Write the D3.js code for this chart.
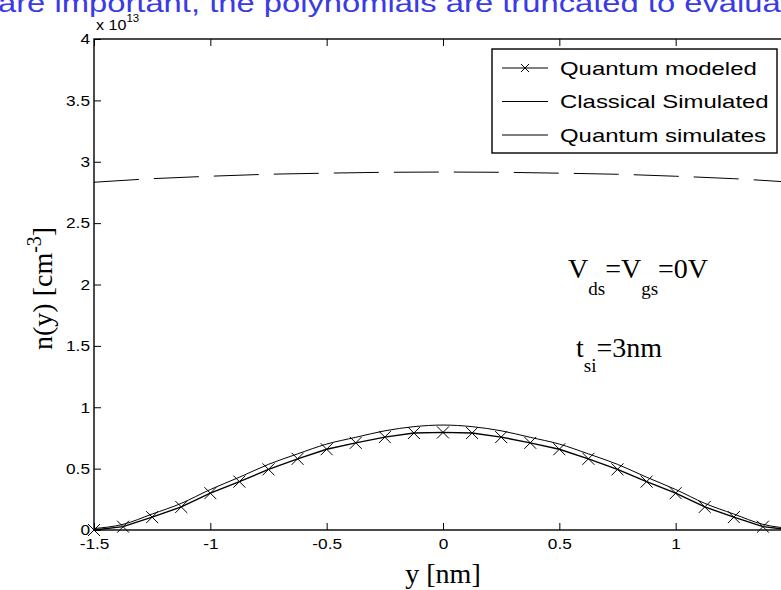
<!DOCTYPE html>
<html>
<head>
<meta charset="utf-8">
<script src="https://cdn.jsdelivr.net/npm/d3@7/dist/d3.min.js"></script>
<style>
    body { margin: 0; background: #fff; }
    svg { display: block; }
    .tick line { stroke: #000; }
</style>
</head>
<body>
<div id="chart"></div>
<script>
// position across the film [nm] where the model was evaluated (x markers)
const yNm = [-1.5, -1.375, -1.25, -1.125, -1, -0.875, -0.75, -0.625, -0.5, -0.375, -0.25, -0.125, 0,
             0.125, 0.25, 0.375, 0.5, 0.625, 0.75, 0.875, 1, 1.125, 1.25, 1.375, 1.5];
// electron density in units of 1e13 cm^-3
const quantumModeled = [0, 0.027, 0.105, 0.188, 0.30, 0.394, 0.494, 0.58, 0.658, 0.71, 0.757, 0.79, 0.795,
                        0.79, 0.757, 0.71, 0.658, 0.58, 0.494, 0.394, 0.30, 0.188, 0.105, 0.027, 0];
const quantumSimulates = [0.012, 0.046, 0.13, 0.217, 0.33, 0.43, 0.535, 0.62, 0.70, 0.755, 0.808, 0.842, 0.855,
                          0.842, 0.808, 0.755, 0.70, 0.62, 0.535, 0.43, 0.33, 0.217, 0.13, 0.046, 0.012];
// classical curve (much flatter)
const yClassical = [-1.5, -1.25, -1, -0.75, -0.5, -0.25, 0, 0.25, 0.5, 0.75, 1, 1.25, 1.5];
const classicalSimulated = [2.833, 2.862, 2.882, 2.898, 2.907, 2.914, 2.916, 2.914, 2.907, 2.898, 2.882, 2.862, 2.833];

const xTicks = [-1.5, -1, -0.5, 0, 0.5, 1, 1.5];
const yTicks = [0, 0.5, 1, 1.5, 2, 2.5, 3, 3.5, 4];
const legendLabels = ["Quantum modeled", "Classical Simulated", "Quantum simulates"];
const pageText = "are important, the polynomials are truncated to evaluate";

const width = 781, height = 590;
const sans = "'Liberation Sans', Arial, sans-serif";
const serif = "'Liberation Serif', 'Times New Roman', serif";

const svg = d3.select("#chart").append("svg")
    .attr("width", width)
    .attr("height", height)
    .style("overflow", "hidden");

// the axes run off the right side of the picture
const x = d3.scaleLinear().domain([-1.5, 1.5]).range([94, 792]);
const y = d3.scaleLinear().domain([0, 4]).range([530, 39]);

// bit of the document text above the figure
svg.append("text")
    .attr("transform", "translate(-2,12) scale(1.26,1)")
    .attr("font-family", sans)
    .attr("font-size", 26)
    .attr("fill", "#3a3ae6")
    .text(pageText);

// plain hyphen minus like the original
const fmt = d => String(d);

// axes (ticks point inward)
const xAxis = svg.append("g")
    .attr("transform", `translate(0,${y(0)})`)
    .call(d3.axisBottom(x).tickValues(xTicks).tickSizeInner(-7).tickSizeOuter(0).tickPadding(8)
        .tickFormat(fmt));
svg.append("g")
    .attr("transform", `translate(0,${y(4)})`)
    .call(d3.axisTop(x).tickValues(xTicks).tickSizeInner(-7).tickSizeOuter(0).tickFormat(""));
const yAxis = svg.append("g")
    .attr("transform", `translate(${x(-1.5)},0)`)
    .call(d3.axisLeft(y).tickValues(yTicks).tickSizeInner(-7).tickSizeOuter(0).tickPadding(3.5)
        .tickFormat(fmt));
svg.append("g")
    .attr("transform", `translate(${x(1.5)},0)`)
    .call(d3.axisRight(y).tickValues(yTicks).tickSizeInner(-7).tickSizeOuter(0).tickFormat(""));

svg.selectAll(".domain").remove();
svg.selectAll(".tick line").attr("stroke-width", 1);
svg.selectAll(".tick text")
    .attr("font-family", sans)
    .attr("font-size", 15)
    .attr("fill", "#000")
    .attr("transform", "scale(1.15,1)");
xAxis.selectAll(".tick text").attr("dy", "0.71em");

// box
svg.append("rect")
    .attr("x", x(-1.5))
    .attr("y", y(4))
    .attr("width", x(1.5) - x(-1.5))
    .attr("height", y(0) - y(4))
    .attr("fill", "none")
    .attr("stroke", "#000")
    .attr("stroke-width", 1.4);

// exponent label
const expLabel = svg.append("text")
    .attr("transform", "translate(96,30) scale(1.15,1)")
    .attr("font-family", sans)
    .attr("font-size", 14);
expLabel.append("tspan").text("x 10");
expLabel.append("tspan").attr("font-size", 10).attr("dy", -8).text("13");

// curves
svg.append("path")
    .datum(classicalSimulated)
    .attr("fill", "none")
    .attr("stroke", "#000")
    .attr("stroke-width", 1)
    .attr("stroke-dasharray", "45,15")
    .attr("d", d3.line().x((d, i) => x(yClassical[i])).y(d => y(d)).curve(d3.curveMonotoneX));

svg.append("path")
    .datum(quantumSimulates)
    .attr("fill", "none")
    .attr("stroke", "#000")
    .attr("stroke-width", 1)
    .attr("d", d3.line().x((d, i) => x(yNm[i])).y(d => y(d)).curve(d3.curveMonotoneX));

svg.append("path")
    .datum(quantumModeled)
    .attr("fill", "none")
    .attr("stroke", "#000")
    .attr("stroke-width", 1.4)
    .attr("d", d3.line().x((d, i) => x(yNm[i])).y(d => y(d)));

const xMark = s => `M${-s},${-s}L${s},${s}M${-s},${s}L${s},${-s}`;

svg.append("g")
    .selectAll("path")
    .data(quantumModeled)
    .enter().append("path")
    .attr("transform", (d, i) => `translate(${x(yNm[i])},${y(d)})`)
    .attr("d", xMark(6))
    .attr("stroke", "#000")
    .attr("stroke-width", 1);

// legend
const legend = svg.append("g").attr("transform", "translate(492,49)");
legend.append("rect")
    .attr("width", 285)
    .attr("height", 104)
    .attr("fill", "#fff")
    .attr("stroke", "#000")
    .attr("stroke-width", 1.4);

const rows = legend.selectAll(".row")
    .data(legendLabels)
    .enter().append("g")
    .attr("class", "row")
    .attr("transform", (d, i) => `translate(0,${19 + i * 33.5})`);

rows.append("line")
    .attr("x1", 10)
    .attr("x2", 56)
    .attr("stroke", "#000")
    .attr("stroke-width", (d, i) => i === 0 ? 1.2 : 1);

rows.filter((d, i) => i === 0).append("path")
    .attr("transform", "translate(33,0)")
    .attr("d", xMark(4))
    .attr("stroke", "#000");

rows.append("text")
    .attr("transform", "translate(68,6.5) scale(1.33,1)")
    .attr("font-family", sans)
    .attr("font-size", 18)
    .text(d => d);

// axis labels
svg.append("text")
    .attr("x", x(0))
    .attr("y", 583)
    .attr("text-anchor", "middle")
    .attr("font-family", serif)
    .attr("font-size", 28)
    .text("y [nm]");

const yLabel = svg.append("text")
    .attr("transform", "translate(52,350) rotate(-90)")
    .attr("font-family", serif)
    .attr("font-size", 28);
yLabel.append("tspan").text("n(y) [cm");
yLabel.append("tspan").attr("font-size", 20).attr("dy", -11).text("-3");
yLabel.append("tspan").attr("dy", 11).text("]");

// annotations
const vText = svg.append("text")
    .attr("x", 568)
    .attr("y", 278)
    .attr("font-family", serif)
    .attr("font-size", 28);
vText.append("tspan").text("V");
vText.append("tspan").attr("font-size", 19).attr("dy", 17).text("ds");
vText.append("tspan").attr("dy", -17).text("=V");
vText.append("tspan").attr("font-size", 19).attr("dy", 17).text("gs");
vText.append("tspan").attr("dy", -17).text("=0V");

const tText = svg.append("text")
    .attr("x", 576)
    .attr("y", 357)
    .attr("font-family", serif)
    .attr("font-size", 28);
tText.append("tspan").text("t");
tText.append("tspan").attr("font-size", 19).attr("dy", 15).text("si");
tText.append("tspan").attr("dy", -15).text("=3nm");
</script>
</body>
</html>
